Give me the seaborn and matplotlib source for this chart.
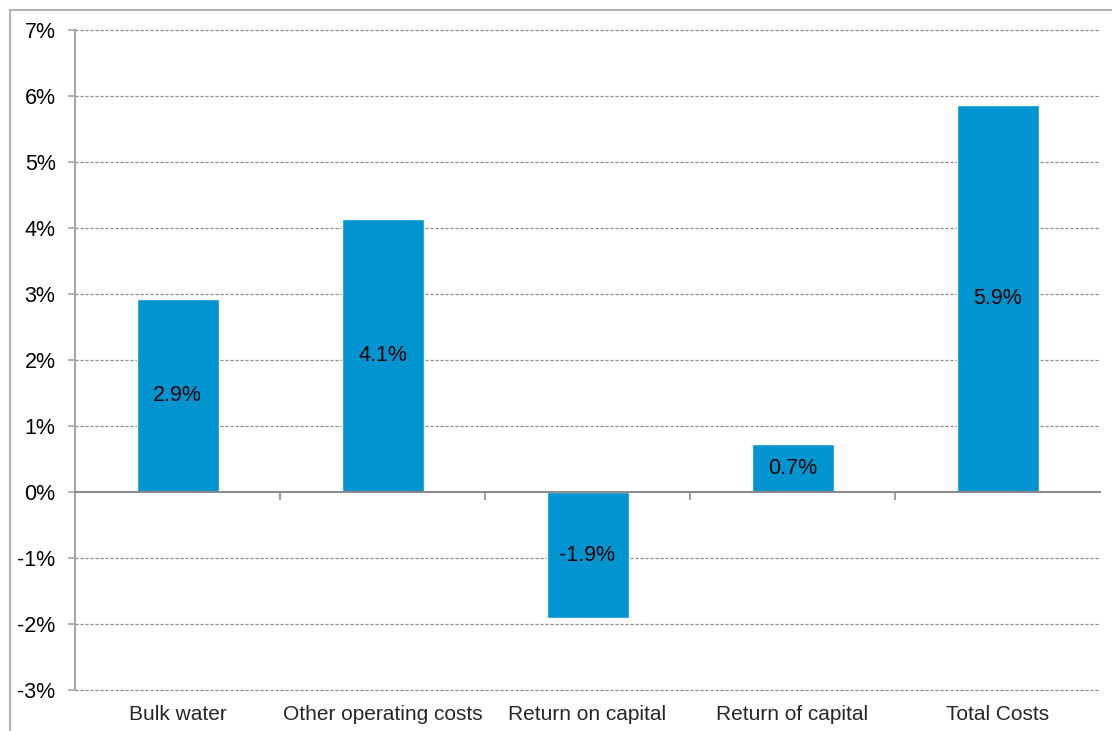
import matplotlib
matplotlib.use("Agg")
import matplotlib.pyplot as plt
import seaborn as sns
import pandas as pd
from matplotlib.patches import Rectangle

# values (percent)
categories = ["Bulk water", "Other operating costs", "Return on capital",
              "Return of capital", "Total Costs"]
values = [2.92, 4.14, -1.91, 0.72, 5.86]
yticks = list(range(-3, 8))

sns.set_theme(style="white")
plt.rcParams['font.family'] = ['Liberation Sans', 'DejaVu Sans']

df = pd.DataFrame({"category": categories, "value": values})

fig = plt.figure(figsize=(11.12, 7.31), dpi=100)
ax = fig.add_axes([75/1112, 1 - 690/731, 1025/1112, 660/731])

# outer chart frame (only top/left visible in the crop)
fig.patches.append(Rectangle((10/1112, -0.05), 1.2, 1 - 10/731 + 0.05,
                             transform=fig.transFigure, fill=False,
                             edgecolor="#b3b3b3", lw=1.5, zorder=0))

sns.barplot(data=df, x="category", y="value", color="#0094D1",
            saturation=1, width=0.4, ax=ax, zorder=3)

for c in ax.containers:
    ax.bar_label(c, labels=[f"{v:.1f}%" for v in values], label_type="center",
                 fontsize=15.5, color="black")

ax.set_ylim(-3, 7)
ax.set_xlim(-0.5, len(categories) - 0.5)
ax.set_yticks(yticks)
ax.set_yticklabels([f"{t}%" for t in yticks], fontsize=15.5)
for t in yticks:
    if t != 0:
        ax.axhline(t, color="#8c8c8c", lw=0.9, ls=(0, (2.5, 1.5)), zorder=1,
                   clip_on=False)

for s in ["top", "right"]:
    ax.spines[s].set_visible(False)
ax.spines["left"].set_color("#a6a6a6")
ax.spines["left"].set_linewidth(1.5)
ax.spines["bottom"].set_position(("data", 0))
ax.spines["bottom"].set_color("#8c8c8c")
ax.spines["bottom"].set_linewidth(1.5)
ax.spines["bottom"].set_zorder(4)

ax.tick_params(axis="y", length=5, width=1.2, color="#a6a6a6", pad=9,
               left=True, labelcolor="black")
ax.set_xticks([i + 0.5 for i in range(len(categories) - 1)], minor=True)
ax.set_xticks(range(len(categories)))
ax.tick_params(axis="x", which="major", length=0, labelbottom=False)
ax.tick_params(axis="x", which="minor", length=6, width=1.2, color="#8c8c8c",
               direction="out", bottom=True)
ax.set_xlabel("")
ax.set_ylabel("")

sec = ax.secondary_xaxis("bottom")
sec.set_xticks(range(len(categories)))
sec.set_xticklabels(categories, fontsize=15)
sec.tick_params(length=0, pad=11)
sec.spines["bottom"].set_visible(False)

fig.savefig("out.png", dpi=100)
